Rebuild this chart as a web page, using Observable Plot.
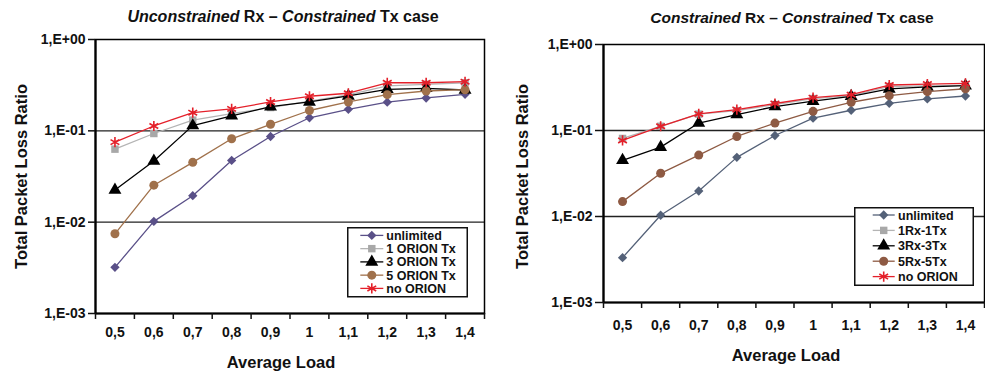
<!DOCTYPE html>
<html><head><meta charset="utf-8">
<script src="https://cdn.jsdelivr.net/npm/d3@7"></script>
<script src="https://cdn.jsdelivr.net/npm/@observablehq/plot@0.6"></script>
<style>
body{margin:0;background:#fff;}
#root{position:relative;width:985px;height:372px;overflow:hidden;font-family:'Liberation Sans',Arial,sans-serif;background:#fff;}
.panel{position:absolute;top:0;width:490px;height:372px;}
.title{position:absolute;width:400px;text-align:center;font-weight:bold;white-space:nowrap;color:#111;}
.legend{position:absolute;overflow:visible;}
</style></head><body><div id="root"></div>
<script>
// ---- data ----
const loads = [0.5, 0.6, 0.7, 0.8, 0.9, 1.0, 1.1, 1.2, 1.3, 1.4];
const xTickLabels = ["0,5", "0,6", "0,7", "0,8", "0,9", "1", "1,1", "1,2", "1,3", "1,4"];
const yTicks = [1, 0.1, 0.01, 0.001];
const yTickLabels = ["1,E+00", "1,E-01", "1,E-02", "1,E-03"];

const leftNames = ["unlimited", "1 ORION Tx", "3 ORION Tx", "5 ORION Tx", "no ORION"];
const leftUnlimited = [0.0032, 0.0102, 0.0195, 0.0474, 0.0867, 0.139, 0.172, 0.206, 0.229, 0.251];
const left1Orion = [0.063, 0.0935, 0.131, 0.154, 0.18, 0.212, 0.247, 0.31, 0.323, 0.336];
const left3Orion = [0.0225, 0.0467, 0.114, 0.146, 0.184, 0.207, 0.241, 0.285, 0.292, 0.28];
const left5Orion = [0.00746, 0.0254, 0.0452, 0.0818, 0.118, 0.167, 0.207, 0.249, 0.273, 0.282];
const leftNoOrion = [0.0752, 0.113, 0.158, 0.174, 0.207, 0.239, 0.258, 0.336, 0.336, 0.345];

const rightNames = ["unlimited", "1Rx-1Tx", "3Rx-3Tx", "5Rx-5Tx", "no ORION"];
const rightUnlimited = [0.00332, 0.01035, 0.0198, 0.0487, 0.0875, 0.139, 0.172, 0.207, 0.233, 0.252];
const right1Rx = [0.0808, 0.112, 0.155, 0.17, 0.2, 0.235, 0.255, 0.325, 0.33, 0.335];
const right3Rx = [0.045, 0.064, 0.122, 0.153, 0.19, 0.219, 0.25, 0.304, 0.321, 0.332];
const right5Rx = [0.0149, 0.0318, 0.0518, 0.0852, 0.122, 0.167, 0.213, 0.254, 0.283, 0.306];
const rightNoOrion = [0.0766, 0.112, 0.156, 0.175, 0.206, 0.241, 0.261, 0.338, 0.347, 0.353];

const symbols = ["diamond2", "square", "triangle", "circle", "asterisk"];
const leftColors = ["#5a5088", "#a8a8a8", "#000000", "#a0714b", "#e4202a"];
const rightColors = ["#546178", "#a8a8a8", "#000000", "#8e5a43", "#e4202a"];
const symbolSizes = [4.2, 4.2, 4.8, 4.5, 4.8];

// ---- helpers ----
const step = loads[1] - loads[0];
const xBounds = [...loads.map(d => d - step / 2), loads[loads.length - 1] + step / 2];
const d3sym = {diamond2: d3.symbolDiamond2, square: d3.symbolSquare, triangle: d3.symbolTriangle, circle: d3.symbolCircle, asterisk: d3.symbolAsterisk};

function seriesMarks(names, seriesValues, colors) {
  const marks = [];
  names.forEach((name, i) => {
    const rows = loads.map((x, j) => ({series: name, x, y: seriesValues[i][j]}));
    const c = colors[i];
    const lineColor = i === 1 ? "#b4b4b4" : c;
    marks.push(Plot.line(rows, {x: "x", y: "y", stroke: lineColor, strokeWidth: 1.3}));
    if (symbols[i] === "asterisk") {
      marks.push(Plot.dot(rows, {x: "x", y: "y", symbol: "asterisk", r: symbolSizes[i], stroke: c, fill: "none", strokeWidth: 1.6}));
    } else {
      marks.push(Plot.dot(rows, {x: "x", y: "y", symbol: symbols[i], r: symbolSizes[i], fill: c, stroke: "none"}));
    }
  });
  return marks;
}

function makePanel(cfg) {
  const panel = document.createElement("div");
  panel.className = "panel";
  panel.style.left = cfg.left + "px";
  const chart = Plot.plot({
    width: 490, height: 372,
    marginLeft: cfg.ml, marginRight: cfg.mr, marginTop: cfg.mt, marginBottom: cfg.mb,
    style: {fontFamily: "'Liberation Sans', Arial, sans-serif", fontWeight: "bold", fontSize: "14px", background: "transparent", color: "#111", overflow: "visible"},
    x: {type: "linear", domain: [xBounds[0], xBounds[xBounds.length - 1]]},
    y: {type: "log", domain: [yTicks[yTicks.length - 1], yTicks[0]]},
    marks: [
      Plot.ruleY(yTicks.slice(1, -1), {stroke: "#222", strokeWidth: 1.3}),
      Plot.frame({stroke: "#000", strokeWidth: 1.5}),
      Plot.ruleX([xBounds[0]], {stroke: "#000", strokeWidth: 2.2}),
      Plot.ruleY([yTicks[yTicks.length - 1]], {stroke: "#000", strokeWidth: 2}),
      Plot.axisY({ticks: yTicks, tickFormat: d => yTickLabels[yTicks.indexOf(d)], tickSize: cfg.yTickSize, tickPadding: 3, strokeWidth: 1.5, label: null, fontSize: 14}),
      Plot.axisX({ticks: xBounds, tickFormat: () => "", tickSize: 6, strokeWidth: 1.5, label: null}),
      Plot.axisX({ticks: loads, tickFormat: d => xTickLabels[loads.indexOf(d)], tickSize: 0, tickPadding: cfg.xPad, label: null, fontSize: 14}),
      Plot.text(["Total Packet Loss Ratio"], {frameAnchor: "left", textAnchor: "middle", lineAnchor: "middle", rotate: -90, dx: cfg.ylDx, dy: cfg.ylDy, fontSize: 16.5, fontWeight: "bold"}),
      Plot.text(["Average Load"], {frameAnchor: "bottom", textAnchor: "middle", lineAnchor: "middle", dx: cfg.xlDx, dy: cfg.xlDy, fontSize: 16.5, fontWeight: "bold"}),
      ...seriesMarks(cfg.names, cfg.values, cfg.colors)
    ]
  });
  panel.appendChild(chart);

  const title = document.createElement("div");
  title.className = "title";
  title.style.left = (cfg.titleX - 200) + "px";
  title.style.top = cfg.titleTop + "px";
  title.style.fontSize = cfg.titleSize + "px";
  title.innerHTML = cfg.titleHTML;
  panel.appendChild(title);

  // legend
  const lg = cfg.legend;
  const svg = d3.create("svg").attr("class", "legend")
    .attr("width", lg.w).attr("height", lg.h)
    .style("left", lg.x + "px").style("top", lg.y + "px");
  svg.append("rect").attr("x", 0.75).attr("y", 0.75).attr("width", lg.w - 1.5).attr("height", lg.h - 1.5)
    .attr("fill", "#fff").attr("stroke", "#111").attr("stroke-width", 1.5);
  cfg.names.forEach((name, i) => {
    const cy = lg.y0 + i * lg.dy;
    const c = cfg.colors[i];
    svg.append("line").attr("x1", lg.lx0).attr("x2", lg.lx1).attr("y1", cy).attr("y2", cy)
      .attr("stroke", i === 1 ? "#b4b4b4" : c).attr("stroke-width", 1.3);
    const r = symbolSizes[i];
    const p = svg.append("path")
      .attr("transform", `translate(${(lg.lx0 + lg.lx1) / 2},${cy})`)
      .attr("d", d3.symbol(d3sym[symbols[i]], Math.PI * r * r)());
    if (symbols[i] === "asterisk") p.attr("fill", "none").attr("stroke", c).attr("stroke-width", 1.6);
    else p.attr("fill", c);
    svg.append("text").attr("x", lg.tx).attr("y", cy).attr("dy", "0.36em")
      .attr("font-family", "'Liberation Sans', Arial, sans-serif").attr("font-weight", "bold")
      .attr("font-size", 12.5).attr("fill", "#111").text(name);
  });
  panel.appendChild(svg.node());
  document.getElementById("root").appendChild(panel);
}

makePanel({
  left: 0, ml: 95, mr: 6, mt: 39, mb: 59, yTickSize: 7, xPad: 14,
  ylDx: -74, ylDy: 0, xlDx: -9, xlDy: 49,
  names: leftNames, values: [leftUnlimited, left1Orion, left3Orion, left5Orion, leftNoOrion], colors: leftColors,
  titleX: 283, titleTop: 8, titleSize: 16,
  titleHTML: "<i>Unconstrained</i> Rx – <i>Constrained</i> Tx case",
  legend: {x: 346.7, y: 227.3, w: 121, h: 70.5, y0: 8.4, dy: 13.25, lx0: 13.3, lx1: 36.3, tx: 39.3}
});
makePanel({
  left: 495, ml: 108, mr: 1, mt: 44, mb: 70, yTickSize: 8, xPad: 18,
  ylDx: -81, ylDy: 3, xlDx: -8, xlDy: 53,
  names: rightNames, values: [rightUnlimited, right1Rx, right3Rx, right5Rx, rightNoOrion], colors: rightColors,
  titleX: 297, titleTop: 9, titleSize: 15.5,
  titleHTML: "<i>Constrained</i> Rx – <i>Constrained</i> Tx case",
  legend: {x: 359, y: 206.7, w: 120, h: 79, y0: 8, dy: 15.4, lx0: 18.7, lx1: 40.7, tx: 44}
});
</script>
</body></html>
